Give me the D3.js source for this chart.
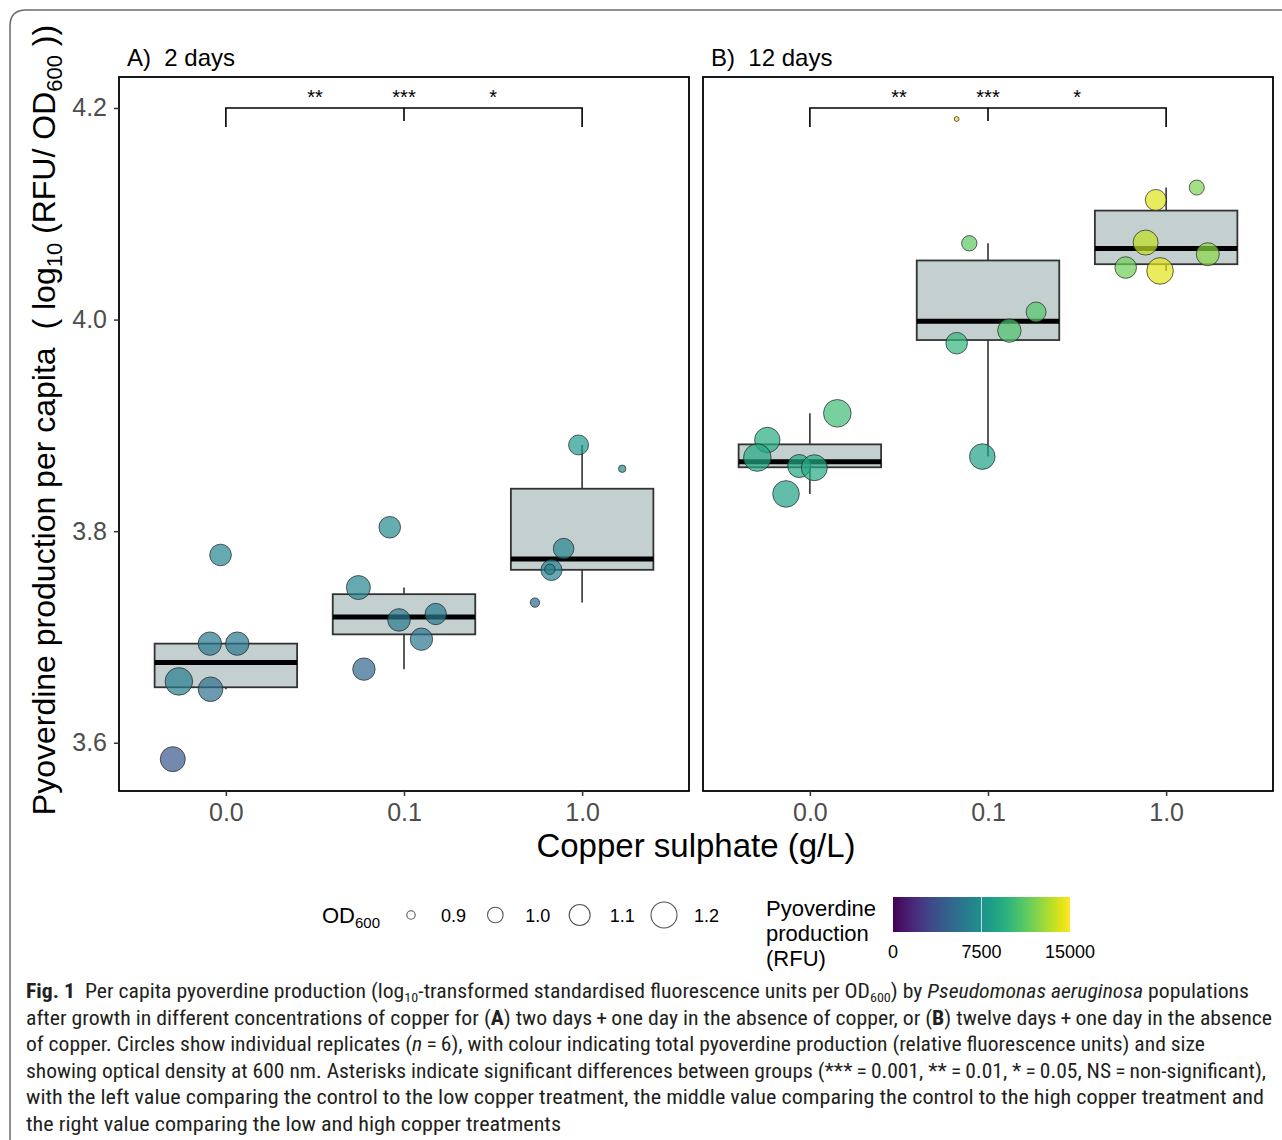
<!DOCTYPE html>
<html><head><meta charset="utf-8">
<script src="https://cdn.jsdelivr.net/npm/d3@7"></script>
<style>
body{margin:0;background:#fff}
svg text{white-space:pre}
</style></head><body>
<svg id="chart" width="1282" height="1140" xmlns="http://www.w3.org/2000/svg"></svg>
<script>
// ---------------- data ----------------
const categories = ["0.0", "0.1", "1.0"];
const panelTitles = ["A)  2 days", "B)  12 days"];
const yTicks = [3.6, 3.8, 4.0, 4.2];
const sizeBreaks = [0.9, 1.0, 1.1, 1.2];
const colorBreaks = [0, 7500, 15000];
const sigLabels = ["**", "***", "*"];

// Panel A: 2 days
const daysA_group  = ["0.0","0.0","0.0","0.0","0.0","0.0","0.1","0.1","0.1","0.1","0.1","0.1","1.0","1.0","1.0","1.0","1.0","1.0"];
const daysA_logPvd = [3.7775,3.6937,3.6937,3.658,3.6506,3.5845, 3.8037,3.7467,3.7161,3.7217,3.6979,3.6696, 3.8815,3.859,3.7835,3.7633,3.764,3.7325];
const daysA_rfu    = [6900,6000,6000,6300,5400,4100, 7100,6800,6100,6200,5900,5000, 8000,7400,6800,6600,6600,4900];
const daysA_od     = [1.112,1.148,1.148,1.232,1.172,1.18, 1.112,1.16,1.132,1.107,1.128,1.128, 1.081,0.886,1.093,1.1,0.928,0.914];
const daysA_jitter = [-0.03,-0.09,0.064,-0.264,-0.086,-0.298, -0.08,-0.256,-0.028,0.178,0.098,-0.225, -0.02,0.225,-0.104,-0.172,-0.181,-0.265];

// Panel B: 12 days
const daysB_group  = ["0.0","0.0","0.0","0.0","0.0","0.0","0.1","0.1","0.1","0.1","0.1","0.1","1.0","1.0","1.0","1.0","1.0","1.0"];
const daysB_logPvd = [3.9114,3.8862,3.8696,3.8616,3.860,3.8352, 4.1896,4.0721,4.0072,3.9896,3.9777,3.8705, 4.1248,4.1131,4.0728,4.0618,4.0492,4.046];
const daysB_rfu    = [10300,9300,9000,9000,9100,8500, 14500,11300,10900,10800,9900,8500, 12000,14200,13600,12400,11700,14300];
const daysB_od     = [1.232,1.188,1.232,1.14,1.2,1.212, 0.85,0.997,1.081,1.148,1.111,1.192, 0.992,1.1,1.18,1.14,1.112,1.212];
const daysB_jitter = [0.154,-0.239,-0.295,-0.06,0.025,-0.134, -0.176,-0.105,0.27,0.12,-0.176,-0.032, 0.172,-0.058,-0.115,0.234,-0.227,-0.034];

// ---------------- layout ----------------
const FONT = "Arial, 'Liberation Sans', Helvetica, sans-serif";
const svg = d3.select("#chart");
const panelX = [119, 703], panelW = 570, panelTop = 77, panelBottom = 791;

const y = d3.scaleLinear().domain([3.5544, 4.2293]).range([panelBottom, panelTop]);
const color = d3.scaleSequential(d3.interpolateViridis).domain([0, 15000]);
const rSize = d3.scaleLinear().domain(sizeBreaks).range([4.2, 7.8, 10.5, 13]);

// outer figure frame (rounded top-left corner)
svg.append("path")
  .attr("d", "M10,1160 V26 Q10,10 26,10 H1300")
  .attr("fill", "none").attr("stroke", "#6b6b6b").attr("stroke-width", 1.5);

function rows(group, val, rfu, od, jit) {
  return group.map((g, i) => ({group: g, value: val[i], rfu: rfu[i], od: od[i], jitter: jit[i]}));
}
const panels = [
  rows(daysA_group, daysA_logPvd, daysA_rfu, daysA_od, daysA_jitter),
  rows(daysB_group, daysB_logPvd, daysB_rfu, daysB_od, daysB_jitter)
];

function boxStats(vals) {
  const s = vals.slice().sort(d3.ascending);
  const q1 = d3.quantile(s, 0.25), med = d3.quantile(s, 0.5), q3 = d3.quantile(s, 0.75);
  const iqr = q3 - q1;
  const lo = d3.min(s.filter(v => v >= q1 - 1.5 * iqr));
  const hi = d3.max(s.filter(v => v <= q3 + 1.5 * iqr));
  return {q1, med, q3, lo, hi};
}

panels.forEach((data, pi) => {
  const g = svg.append("g").attr("transform", `translate(${panelX[pi]},0)`);
  const x = d3.scalePoint().domain(categories).range([0, panelW]).padding(0.6);
  const bw = x.step() * 0.8;

  // boxes
  const stats = categories.map(c => ({cat: c, ...boxStats(data.filter(d => d.group === c).map(d => d.value))}));
  const bx = g.append("g");
  stats.forEach(s => {
    const cx = x(s.cat);
    bx.append("line").attr("x1", cx).attr("x2", cx).attr("y1", y(s.q3)).attr("y2", y(s.hi))
      .attr("stroke", "#333").attr("stroke-width", 1.6);
    bx.append("line").attr("x1", cx).attr("x2", cx).attr("y1", y(s.q1)).attr("y2", y(s.lo))
      .attr("stroke", "#333").attr("stroke-width", 1.6);
    bx.append("rect").attr("x", cx - bw / 2).attr("width", bw)
      .attr("y", y(s.q3)).attr("height", y(s.q1) - y(s.q3))
      .attr("fill", "#c4cfcf").attr("stroke", "#333").attr("stroke-width", 1.8);
    bx.append("line").attr("x1", cx - bw / 2).attr("x2", cx + bw / 2).attr("y1", y(s.med)).attr("y2", y(s.med))
      .attr("stroke", "#000").attr("stroke-width", 5);
  });

  // points
  g.append("g").selectAll("circle").data(data).join("circle")
    .attr("cx", d => x(d.group) + d.jitter * x.step())
    .attr("cy", d => y(d.value))
    .attr("r", d => rSize(d.od))
    .attr("fill", d => color(d.rfu)).attr("fill-opacity", 0.7)
    .attr("stroke", "#222").attr("stroke-opacity", 0.7).attr("stroke-width", 1);

  // significance bracket
  const yb = y(4.2);
  const br = g.append("g").attr("stroke", "#000").attr("stroke-width", 1.6).attr("fill", "none");
  br.append("path").attr("d", `M${x(categories[0])},${yb + 19} V${yb} H${x(categories[2])} V${yb + 19}`);
  br.append("line").attr("x1", x(categories[1])).attr("x2", x(categories[1])).attr("y1", yb).attr("y2", yb + 13);
  const sigX = [(x(categories[0]) + x(categories[1])) / 2, x(categories[1]), (x(categories[1]) + x(categories[2])) / 2];
  g.append("g").selectAll("text").data(sigLabels).join("text")
    .attr("x", (d, i) => sigX[i]).attr("y", yb - 4)
    .attr("text-anchor", "middle").attr("font-family", FONT).attr("font-size", 20).attr("fill", "#000")
    .text(d => d);

  // frame
  g.append("rect").attr("x", 0).attr("y", panelTop).attr("width", panelW).attr("height", panelBottom - panelTop)
    .attr("fill", "none").attr("stroke", "#000").attr("stroke-width", 1.8);

  // x axis
  const xa = g.append("g").attr("transform", `translate(0,${panelBottom})`)
    .call(d3.axisBottom(x).tickSize(5).tickPadding(7));
  xa.select(".domain").remove();
  xa.selectAll("line").attr("stroke", "#333").attr("stroke-width", 1.5);
  xa.selectAll("text").attr("font-family", FONT).attr("font-size", 25).attr("fill", "#4d4d4d");

  // y axis (only on panel A)
  if (pi === 0) {
    const ya = g.append("g").call(d3.axisLeft(y).tickValues(yTicks).tickFormat(d3.format(".1f")).tickSize(5).tickPadding(7));
    ya.select(".domain").remove();
    ya.selectAll("line").attr("stroke", "#333").attr("stroke-width", 1.5);
    ya.selectAll("text").attr("font-family", FONT).attr("font-size", 25).attr("fill", "#4d4d4d");
  }

  // panel title
  svg.append("text").attr("x", panelX[pi] + 8).attr("y", 66)
    .attr("font-family", FONT).attr("font-size", 24).attr("fill", "#000")
    .text(panelTitles[pi]);
});

// axis titles
svg.append("text").attr("x", 696).attr("y", 857).attr("text-anchor", "middle")
  .attr("font-family", FONT).attr("font-size", 33).attr("fill", "#000")
  .text("Copper sulphate (g/L)");

const yt = svg.append("text").attr("transform", "translate(55,420) rotate(-90)")
  .attr("text-anchor", "middle").attr("font-family", FONT).attr("font-size", 32).attr("fill", "#000");
yt.append("tspan").text("Pyoverdine production per capita  ( log");
yt.append("tspan").attr("font-size", 22).attr("dy", 7).text("10");
yt.append("tspan").attr("dy", -7).text(" (RFU/ OD");
yt.append("tspan").attr("font-size", 22).attr("dy", 7).text("600");
yt.append("tspan").attr("dy", -7).text(" ))");

// ---------------- size legend ----------------
const lg = svg.append("g");
const odT = lg.append("text").attr("x", 322).attr("y", 923).attr("font-family", FONT).attr("font-size", 22).attr("fill", "#000");
odT.append("tspan").text("OD");
odT.append("tspan").attr("font-size", 15).attr("dy", 5).text("600");
const legX = d3.scalePoint().domain(sizeBreaks).range([411, 664]);
lg.selectAll("circle").data(sizeBreaks).join("circle")
  .attr("cx", d => legX(d)).attr("cy", 915).attr("r", d => rSize(d))
  .attr("fill", "#fff").attr("stroke", "#555").attr("stroke-width", 1.1);
lg.selectAll("text.lab").data(sizeBreaks).join("text").attr("class", "lab")
  .attr("x", d => legX(d) + 30).attr("y", 922)
  .attr("font-family", FONT).attr("font-size", 18).attr("fill", "#000")
  .text(d => d3.format(".1f")(d));

// ---------------- colour legend ----------------
const cTitle = ["Pyoverdine", "production", "(RFU)"];
svg.append("g").selectAll("text").data(cTitle).join("text")
  .attr("x", 766).attr("y", (d, i) => 916 + i * 25)
  .attr("font-family", FONT).attr("font-size", 22).attr("fill", "#000").text(d => d);

const defs = svg.append("defs");
const grad = defs.append("linearGradient").attr("id", "vir").attr("x1", "0%").attr("x2", "100%");
d3.range(0, 1.0001, 0.05).forEach(t => grad.append("stop").attr("offset", t).attr("stop-color", d3.interpolateViridis(t)));
const cbX = d3.scaleLinear().domain([0, 15000]).range([893, 1070]);
svg.append("rect").attr("x", cbX(0)).attr("y", 897).attr("width", cbX(15000) - cbX(0)).attr("height", 35)
  .attr("fill", "url(#vir)");
svg.append("line").attr("x1", cbX(7500)).attr("x2", cbX(7500)).attr("y1", 897).attr("y2", 932)
  .attr("stroke", "#fff").attr("stroke-opacity", 0.7).attr("stroke-width", 1);
svg.append("g").selectAll("text").data(colorBreaks).join("text")
  .attr("x", d => cbX(d)).attr("y", 958).attr("text-anchor", "middle")
  .attr("font-family", FONT).attr("font-size", 18).attr("fill", "#000").text(d => d);

// ---------------- caption ----------------
const CAP = "'Liberation Sans Narrow', 'Roboto Condensed', Arial, 'Liberation Sans', sans-serif";
const capLines = [
  [["b","Fig. 1"],["n","  Per capita pyoverdine production (log"],["s","10"],["n","-transformed standardised fluorescence units per OD"],["s","600"],["n",") by "],["i","Pseudomonas aeruginosa"],["n"," populations"]],
  [["n","after growth in different concentrations of copper for ("],["b","A"],["n",") two days\u2009+\u2009one day in the absence of copper, or ("],["b","B"],["n",") twelve days\u2009+\u2009one day in the absence"]],
  [["n","of copper. Circles show individual replicates ("],["i","n"],["n","\u2009=\u20096), with colour indicating total pyoverdine production (relative fluorescence units) and size"]],
  [["n","showing optical density at 600 nm. Asterisks indicate significant differences between groups (***\u2009=\u20090.001, **\u2009=\u20090.01, *\u2009=\u20090.05, NS\u2009=\u2009non-significant),"]],
  [["n","with the left value comparing the control to the low copper treatment, the middle value comparing the control to the high copper treatment and"]],
  [["n","the right value comparing the low and high copper treatments"]]
];
const capEnds = [1249, 1272, 1205, 1266, 1264, 561];
capLines.forEach((parts, li) => {
  const t = svg.append("text").attr("x", 26).attr("y", 998 + li * 26.5)
    .attr("font-family", CAP).attr("font-size", 20).attr("fill", "#231f20")
    .attr("textLength", capEnds[li] - 26).attr("lengthAdjust", "spacingAndGlyphs");
  let shifted = false;
  parts.forEach(([k, s]) => {
    const ts = t.append("tspan").text(s);
    if (k === "b") ts.attr("font-weight", "bold");
    if (k === "i") ts.attr("font-style", "italic");
    if (k === "s") { ts.attr("font-size", 13).attr("dy", 4); shifted = true; }
    else if (shifted) { ts.attr("dy", -4); shifted = false; }
  });
});
</script>
</body></html>
